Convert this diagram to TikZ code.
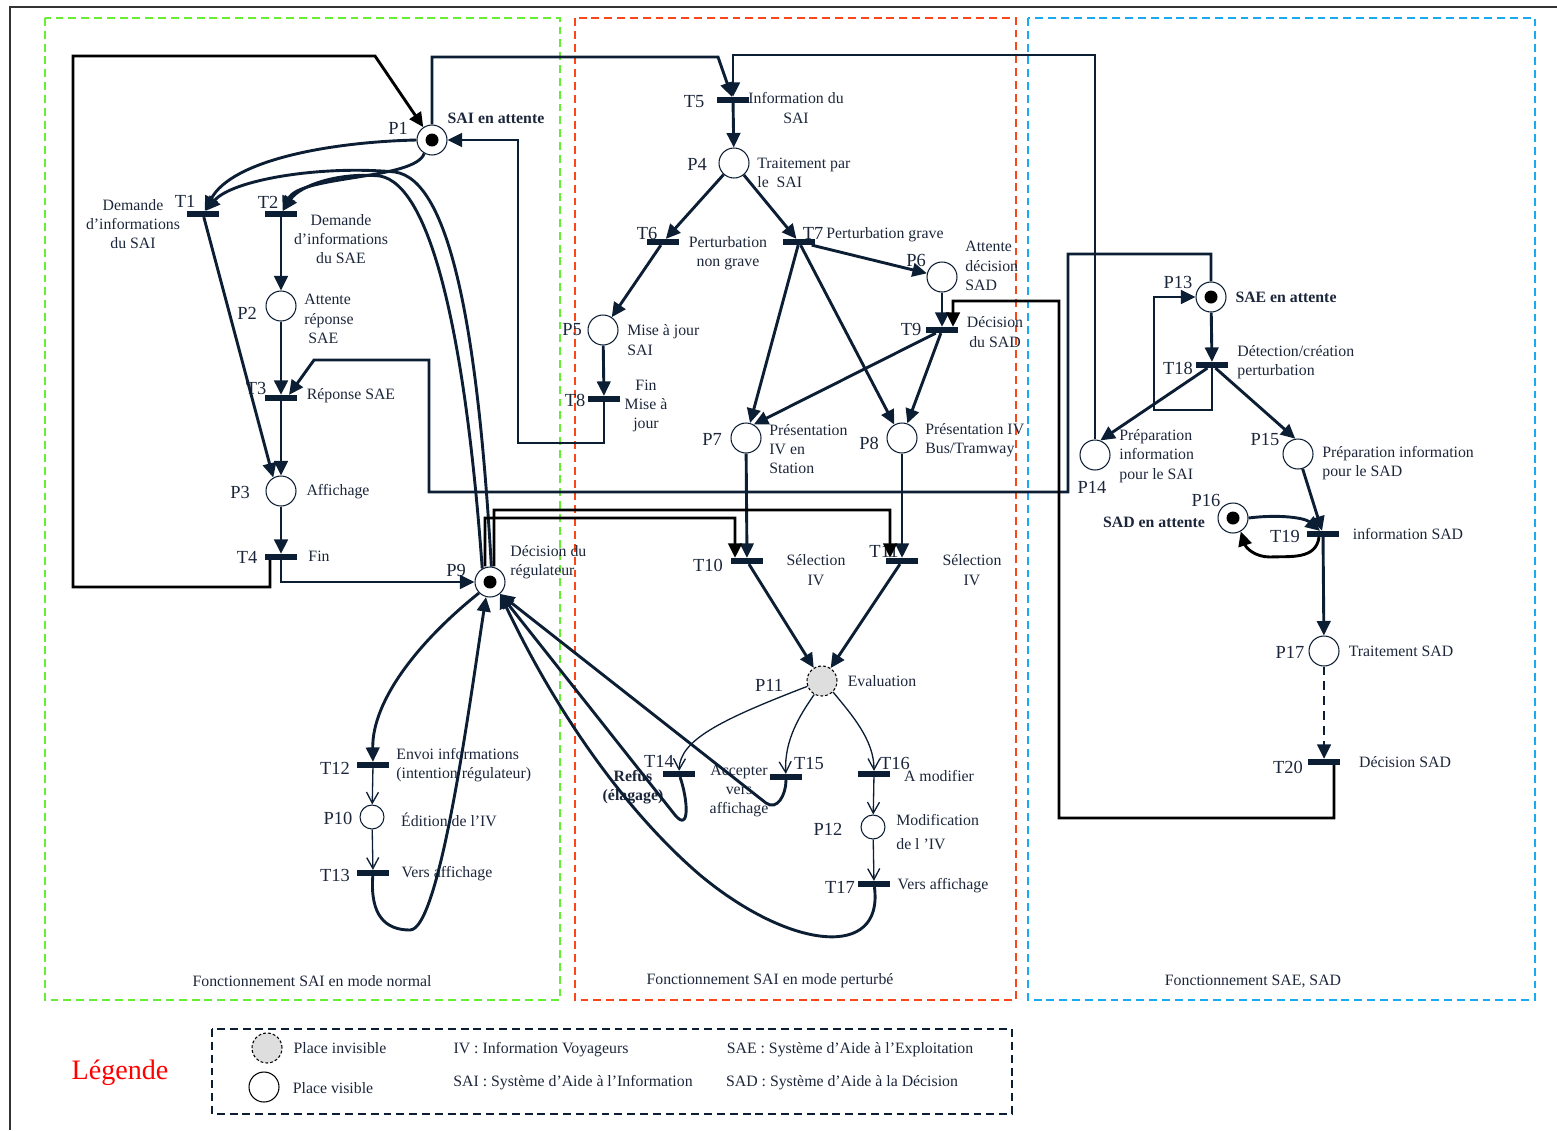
\documentclass[tikz,border=0pt]{standalone}
\usepackage{fontspec}
\setmainfont{Liberation Serif}
\usetikzlibrary{arrows.meta}
\definecolor{navy}{RGB}{12,30,52}
\definecolor{ink}{RGB}{28,38,58}
\definecolor{zgreen}{RGB}{102,238,51}
\definecolor{zred}{RGB}{250,70,25}
\definecolor{zblue}{RGB}{25,170,240}
\definecolor{ghost}{RGB}{222,222,222}
\tikzset{
  place/.style  = {circle, draw=navy, line width=0.6pt, fill=white,
                   minimum size=0.6cm, inner sep=0pt},
  mplace/.style = {place, path picture={\fill[black]
                   (path picture bounding box.center) circle (0.13cm);}},
  splace/.style = {place, minimum size=0.48cm},
  iplace/.style = {place, draw=black, dash pattern=on 1.6pt off 1.2pt, fill=ghost},
  trans/.style  = {rectangle, fill=navy, minimum width=0.64cm,
                   minimum height=0.11cm, inner sep=0pt},
  arc/.style    = {draw=navy, line width=1.65pt,
                   -{Triangle[length=0.29cm,width=0.27cm]}},
  barc/.style   = {arc, draw=black},
  darc/.style   = {arc, dash pattern=on 5pt off 3.5pt},
  tarc/.style   = {draw=navy, line width=0.75pt,
                   -{Straight Barb[length=0.22cm,width=0.24cm]}},
  nm/.style     = {font=\fontsize{10.5}{12}\selectfont, text=ink, inner sep=0pt},
  lbl/.style    = {font=\fontsize{9}{11}\selectfont, text=ink, inner sep=0pt},
  blbl/.style   = {lbl, font=\fontsize{9}{11}\selectfont\bfseries},
  zone/.style   = {line width=1.4pt, dash pattern=on 4.5pt off 2.8pt},
}

\begin{document}
\begin{tikzpicture}[x=0.02cm, y=-0.02cm]
  \useasboundingbox (0,0) rectangle (1557,1130);
  % frame and the three zones
  \draw[line width=0.8pt, black!80] (10,1130) -- (10,7) -- (1557,7);
  \draw[zone, zgreen] (45,18) rectangle (560,1000);
  \draw[zone, zred] (575,18) rectangle (1016,1000);
  \draw[zone, zblue] (1028,18) rectangle (1535,1000);
  \node[lbl] (zN) at (312,981) {Fonctionnement SAI en mode normal};
  \node[lbl] (zP) at (770,981) {Fonctionnement SAI en mode perturbé};
  \node[lbl] (zS) at (1253,981) {Fonctionnement SAE, SAD};

  % places
  \node[mplace] (P1) at (432,140) {};
  \node[place] (P2) at (281,306) {};
  \node[place] (P3) at (281,491) {};
  \node[place] (P4) at (734,163) {};
  \node[place] (P5) at (603,330) {};
  \node[place] (P6) at (942,277) {};
  \node[place] (P7) at (746,438) {};
  \node[place] (P8) at (902,438) {};
  \node[mplace] (P9) at (490,582) {};
  \node[splace] (P10) at (372,817) {};
  \node[iplace] (P11) at (822,681) {};
  \node[splace] (P12) at (873,827) {};
  \node[mplace] (P13) at (1211,297) {};
  \node[place] (P14) at (1095,455) {};
  \node[place] (P15) at (1298,454) {};
  \node[mplace] (P16) at (1233,518) {};
  \node[place] (P17) at (1324,651) {};

  % transitions
  \node[trans] (T1) at (203,214) {};
  \node[trans] (T2) at (281,214) {};
  \node[trans] (T3) at (281,398) {};
  \node[trans] (T4) at (281,557) {};
  \node[trans] (T5) at (733,100) {};
  \node[trans] (T6) at (663,242) {};
  \node[trans] (T7) at (799,242) {};
  \node[trans] (T8) at (604,399) {};
  \node[trans] (T9) at (942,330) {};
  \node[trans] (T10) at (747,561) {};
  \node[trans] (T11) at (902,561) {};
  \node[trans] (T12) at (373,765) {};
  \node[trans] (T13) at (373,873) {};
  \node[trans] (T14) at (679,774) {};
  \node[trans] (T15) at (786,777) {};
  \node[trans] (T16) at (874,774) {};
  \node[trans] (T17) at (874,884) {};
  \node[trans] (T18) at (1212,365) {};
  \node[trans] (T19) at (1323,534) {};
  \node[trans] (T20) at (1324,762) {};

  % names
  \node[nm] (nP1) at (398,128) {P1};
  \node[nm] (nT1) at (185,201) {T1};
  \node[nm] (nT2) at (268,202) {T2};
  \node[nm] (nP2) at (247,313) {P2};
  \node[nm] (nT3) at (256,388) {T3};
  \node[nm] (nP3) at (240,492) {P3};
  \node[nm] (nT4) at (247,557) {T4};
  \node[nm] (nP9) at (456,570) {P9};
  \node[nm] (nT5) at (694,102) {T5};
  \node[nm] (nP4) at (697,164) {P4};
  \node[nm] (nT6) at (647,233) {T6};
  \node[nm] (nT7) at (813,233) {T7};
  \node[nm] (nP6) at (916,260) {P6};
  \node[nm] (nT9) at (911,329) {T9};
  \node[nm] (nP5) at (572,330) {P5};
  \node[nm] (nT8) at (575,400) {T8};
  \node[nm] (nP7) at (712,439) {P7};
  \node[nm] (nP8) at (869,443) {P8};
  \node[nm] (nT10) at (708,565) {T10};
  \node[nm] (nT11) at (884,551) {T11};
  \node[nm] (nT12) at (335,768) {T12};
  \node[nm] (nP10) at (338,818) {P10};
  \node[nm] (nT13) at (335,875) {T13};
  \node[nm] (nP11) at (769,685) {P11};
  \node[nm] (nT14) at (659,761) {T14};
  \node[nm] (nT15) at (809,763) {T15};
  \node[nm] (nT16) at (895,763) {T16};
  \node[nm] (nP12) at (828,829) {P12};
  \node[nm] (nT17) at (840,887) {T17};
  \node[nm] (nP13) at (1178,282) {P13};
  \node[nm] (nT18) at (1178,368) {T18};
  \node[nm] (nP14) at (1092,487) {P14};
  \node[nm] (nP15) at (1265,439) {P15};
  \node[nm] (nP16) at (1206,500) {P16};
  \node[nm] (nT19) at (1285,536) {T19};
  \node[nm] (nP17) at (1290,652) {P17};
  \node[nm] (nT20) at (1288,767) {T20};

  % descriptions
  \node[blbl] (dP1) at (496,118) {SAI en attente};
  \node[lbl, align=center] (dT1) at (133,224) {Demande\\d’informations\\du SAI};
  \node[lbl, align=center] (dT2) at (341,239) {Demande\\d’informations\\du SAE};
  \node[lbl, align=left, anchor=west] (dP2) at (304,319) {Attente\\réponse\\\ SAE};
  \node[lbl] (dT3) at (351,396) {Réponse SAE};
  \node[lbl] (dP3) at (338,492) {Affichage};
  \node[lbl] (dT4) at (319,556) {Fin};
  \node[lbl, align=left, anchor=west] (dP9) at (510,562) {Décision du\\régulateur};
  \node[lbl, align=center] (dT5) at (796,108) {Information du\\SAI};
  \node[lbl, align=left, anchor=west] (dP4) at (757,173) {Traitement par\\le\ \ SAI};
  \node[lbl, align=center] (dT6) at (728,253) {Perturbation\\non grave};
  \node[lbl, anchor=west] (dT7) at (826,235) {Perturbation grave};
  \node[lbl, align=left, anchor=west] (dP6) at (965,266) {Attente\\décision\\SAD};
  \node[lbl, align=center] (dT9) at (995,332) {Décision\\du SAD};
  \node[lbl, align=left, anchor=west] (dP5) at (627,340) {Mise à jour\\SAI};
  \node[lbl, align=center] (dT8) at (646,406) {Fin\\Mise à\\jour};
  \node[lbl, align=left, anchor=west] (dP7) at (769,449) {Présentation\\IV en\\Station};
  \node[lbl, align=left, anchor=west] (dP8) at (925,440) {Présentation IV\\Bus/Tramway};
  \node[lbl, align=center] (dT10) at (816,570) {Sélection\\IV};
  \node[lbl, align=center] (dT11) at (972,570) {Sélection\\IV};
  \node[lbl, align=left, anchor=west] (dT12) at (396,765) {Envoi informations\\(intention régulateur)};
  \node[lbl] (dP10) at (449,820) {Édition de l’IV};
  \node[lbl] (dT13) at (447,874) {Vers affichage};
  \node[lbl] (dP11) at (882,681) {Evaluation};
  \node[blbl, align=center] (dT14) at (633,787) {Refus\\(élagage)};
  \node[lbl, align=center] (dT15) at (739,791) {Accepter\\vers\\affichage};
  \node[lbl] (dT16) at (939,776) {A modifier};
  \node[lbl, align=left, anchor=west] (dP12) at (896,832) {Modification\\[3pt]de l ’IV};
  \node[lbl] (dT17) at (943,886) {Vers affichage};
  \node[blbl] (dP13) at (1286,297) {SAE en attente};
  \node[lbl, align=left, anchor=west] (dT18) at (1237,362) {Détection/création\\perturbation};
  \node[lbl, align=left, anchor=west] (dP14) at (1119,456) {Préparation\\information\\pour le SAI};
  \node[lbl, align=left, anchor=west] (dP15) at (1322,463) {Préparation information\\pour le SAD};
  \node[blbl] (dP16) at (1154,522) {SAD en attente};
  \node[lbl] (dT19) at (1408,534) {information SAD};
  \node[lbl] (dP17) at (1401,651) {Traitement SAD};
  \node[lbl] (dT20) at (1405,762) {Décision SAD};

  % normal mode
  \draw[arc] (P1.west) .. controls (330,142) and (232,160) .. (T1);
  \draw[arc] (P1.-120) .. controls (415,180) and (300,175) .. (T2);
  \draw[arc] (P9.85) .. controls (478,330) and (450,180) .. (395,172)
    .. controls (320,165) and (232,180) .. (T1);
  \draw[arc] (P9.120) .. controls (465,330) and (430,185) .. (380,176)
    .. controls (340,172) and (300,185) .. (T2);
  \draw[arc] (T1) -- (P3.120);
  \draw[arc] (T2) -- (P2);
  \draw[arc] (P2) -- (T3);
  \draw[arc] (T3) -- (P3);
  \draw[arc] (P3) -- (T4);
  \draw[arc] (T4) |- (P9);
  \draw[barc] ([xshift=-0.22cm]T4.south) |- (73,587) |- (375,56) -- (P1);
  \draw[arc] (P9.-135) .. controls (420,640) and (372,700) .. (T12);
  \draw[tarc] (T12) -- (P10);
  \draw[tarc] (P10) -- (T13);
  \draw[arc] (T13) .. controls (370,915) and (385,930) .. (410,930)
    .. controls (440,930) and (470,700) .. (P9.-105);

  % perturbed mode
  \draw[arc] (P1) |- (718,57) -- (T5);
  \draw[arc] (P14) |- (733,55) -- (T5);
  \draw[arc] (T5) -- (P4);
  \draw[arc] (P4) -- (T6);
  \draw[arc] (P4) -- (T7);
  \draw[arc] (T6) -- (P5);
  \draw[arc] (P5) -- (T8);
  \draw[arc] (T8) |- (518,443) |- (P1);
  \draw[arc] (T7) -- (P6);
  \draw[arc] (T7) -- (P7);
  \draw[arc] (T7) -- (P8.120);
  \draw[arc] (P6) -- (T9);
  \draw[arc] (T9) -- (P7.60);
  \draw[arc] (T9) -- (P8.70);
  \draw[arc] (P7) -- (T10);
  \draw[arc] (P8) -- (T11);
  \draw[barc] ([xshift=-0.1cm]P9.north) |- (735,518) -- ([xshift=-0.24cm]T10.north);
  \draw[barc] ([xshift=0.08cm]P9.north) |- (890,510) -- ([xshift=-0.24cm]T11.north);
  \draw[arc] (T10) -- (P11);
  \draw[arc] (T11) -- (P11);
  \draw[tarc] (P11.200) .. controls (720,720) and (680,740) .. (T14);
  \draw[tarc] (P11.240) .. controls (800,715) and (784,740) .. (T15);
  \draw[tarc] (P11.-45) .. controls (852,715) and (874,740) .. (T16);
  \draw[tarc] (T16) -- (P12);
  \draw[tarc] (P12) -- (T17);
  \draw[arc] (T14) .. controls (688,800) and (690,833) .. (675,815) -- (P9.-50);
  \draw[arc] (T15) .. controls (786,795) and (777,811) .. (766,803) -- (P9.-50);
  \draw[arc] (T17) .. controls (884,960) and (790,950) .. (700,875)
    .. controls (630,815) and (560,720) .. (P9.-50);

  % SAE and SAD
  \draw[arc] (P13) -- (T18);
  \draw[arc] (T18) |- (1154,410) |- (P13);
  \draw[arc] (P13) |- (1068,254) |- (429,492) |- (314,360)
    -- ([xshift=0.16cm]T3.north);
  \draw[arc] (T18) -- (P14.70);
  \draw[arc] (T18) -- (P15.100);
  \draw[arc] (P15) -- (T19);
  \draw[arc] (P16.east) .. controls (1280,514) and (1305,518)
    .. ([xshift=-0.06cm]T19.north);
  \draw[barc] ([xshift=-0.08cm]T19.south) .. controls (1316,560) and (1290,556)
    .. (1270,557) .. controls (1255,557) and (1246,548) .. (P16.-60);
  \draw[arc] (T19) -- (P17);
  \draw[darc] (P17) -- (T20);
  \draw[barc] ([xshift=0.2cm]T20.south) |- (1059,818) |- (953,301)
    -- ([xshift=0.22cm]T9.north);

  % legend
  \draw[zone, navy] (212,1029) rectangle (1012,1114);
  \node[font=\fontsize{16}{18}\selectfont, text=red, inner sep=0pt] (lgd) at (120,1073) {Légende};
  \node[iplace] (lgI) at (267,1048) {};
  \node[place, draw=black] (lgV) at (264,1087) {};
  \node[lbl] (lgIt) at (340,1048) {Place invisible};
  \node[lbl] (lgVt) at (333,1088) {Place visible};
  \node[lbl] (lgIV) at (541,1050) {IV : Information Voyageurs};
  \node[lbl] (lgSAI) at (573,1083) {SAI : Système d’Aide à l’Information};
  \node[lbl] (lgSAE) at (850,1050) {SAE : Système d’Aide à l’Exploitation};
  \node[lbl] (lgSAD) at (842,1083) {SAD : Système d’Aide à la Décision};
\end{tikzpicture}
\end{document}
